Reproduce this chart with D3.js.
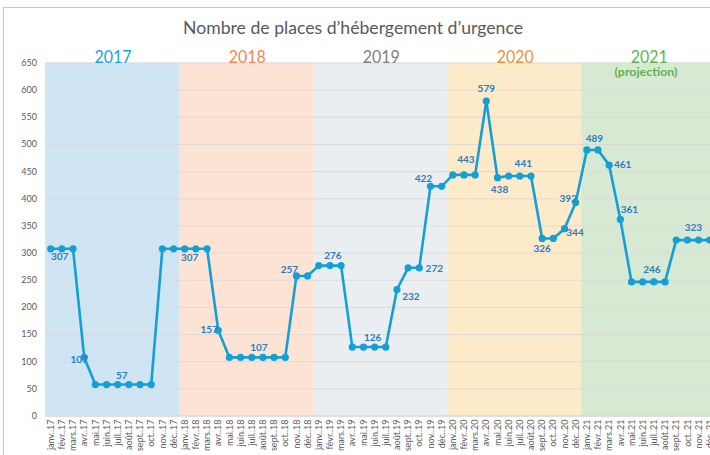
<!DOCTYPE html>
<html>
<head>
<meta charset="utf-8">
<script src="https://cdn.jsdelivr.net/npm/d3@7"></script>
<style>
  body { margin: 0; background: #fff; overflow: hidden; }
  text { font-family: Lato, "Open Sans", sans-serif; }
</style>
</head>
<body>
<div id="chart"></div>
<script>
// months in french excel format
var monthNames = ["janv.", "févr.", "mars", "avr.", "mai", "juin", "juil.", "août", "sept.", "oct.", "nov.", "déc."];
var years = ["2017", "2018", "2019", "2020", "2021"];
var yearColors = ["#1ba1dc", "#f08a4b", "#7f7f7f", "#e8952e", "#5cb34c"];
var bandColors = ["#cfe5f3", "#fce3d4", "#eaeef0", "#fdeac8", "#d7e9d2"];

var places = [
  307, 307, 307, 107, 57, 57, 57, 57, 57, 57, 307, 307,
  307, 307, 307, 157, 107, 107, 107, 107, 107, 107, 257, 257,
  276, 276, 276, 126, 126, 126, 126, 232, 272, 272, 422, 422,
  443, 443, 443, 579, 438, 441, 441, 441, 326, 326, 344, 392,
  489, 489, 461, 361, 246, 246, 246, 246, 323, 323, 323, 323
];
var yTicks = [0, 50, 100, 150, 200, 250, 300, 350, 400, 450, 500, 550, 600, 650];

// which points carry a label
var labelIdx = [0, 3, 6, 12, 15, 19, 22, 25, 29, 31, 33, 34, 37, 39, 40, 42, 44, 46, 47, 48, 50, 51, 54, 57];
// label offsets from the point (text centre)
var labelOffsets = [
  [9, 8], [-5, 2], [4, -9], [5, 8.5], [-9, -1], [-4, -10], [-7, -6], [3, -10],
  [-2, -9.5], [14, 7], [15, 0.5], [-7, -8], [2, -15.5], [0, -12.7], [2, 12], [3.5, -12.7],
  [0, 10], [10.5, 3.6], [-7.5, -4], [7.5, -11.6], [13.5, -1], [9, -10], [-2, -12], [6, -13]
];

var months = [];
years.forEach(function(y) {
  monthNames.forEach(function(m) { months.push(m + "." + y.slice(2)); });
});

var width = 710, height = 455;
var svg = d3.select("#chart").append("svg")
    .attr("width", width)
    .attr("height", height);

// chart frame
svg.append("rect")
    .attr("x", 3.5).attr("y", 7.5)
    .attr("width", 760).attr("height", 500)
    .attr("fill", "none")
    .attr("stroke", "#c9c9c9");

var x = d3.scaleBand()
    .domain(months)
    .range([45.1, 45.1 + 60 * 11.17])
    .padding(0);

var y = d3.scaleLinear()
    .domain([0, 650])
    .range([415.5, 62.5]);

// year backgrounds
svg.selectAll(".band")
    .data(years)
    .enter()
    .append("rect")
    .attr("x", function(d, i) { return x(months[i * 12]); })
    .attr("y", y(650))
    .attr("width", x.step() * 12)
    .attr("height", y(0) - y(650))
    .attr("fill", function(d, i) { return bandColors[i]; });

// gridlines + y axis labels
var yAxis = svg.append("g")
    .attr("transform", "translate(45,0)")
    .call(d3.axisLeft(y).tickValues(yTicks).tickSize(-680).tickPadding(8));
yAxis.select(".domain").remove();
yAxis.selectAll("line").attr("stroke", "#d9d9d9").attr("stroke-width", 1).attr("opacity", 0.9);
yAxis.selectAll("text")
    .attr("fill", "#595959")
    .style("font-size", "9px");

// x axis labels
var xAxis = svg.append("g")
    .attr("transform", "translate(0," + y(0) + ")")
    .call(d3.axisBottom(x).tickSize(0));
xAxis.select(".domain").attr("stroke", "#d0d0d0");
xAxis.selectAll("text")
    .attr("transform", "rotate(-90)")
    .attr("x", -4)
    .attr("y", 0)
    .attr("dy", "0.35em")
    .style("text-anchor", "end")
    .style("font-size", "9px")
    .attr("fill", "#595959");

// title
svg.append("text")
    .attr("x", 353)
    .attr("y", 34)
    .attr("text-anchor", "middle")
    .attr("textLength", 340)
    .attr("lengthAdjust", "spacingAndGlyphs")
    .style("font-size", "17px")
    .attr("fill", "#595959")
    .text("Nombre de places d\u2019hébergement d\u2019urgence");

// year titles
svg.selectAll(".yr")
    .data(years)
    .enter()
    .append("text")
    .attr("x", function(d, i) { return x(months[i * 12]) + x.step() * 6 + 1; })
    .attr("y", 63)
    .attr("text-anchor", "middle")
    .attr("textLength", 37)
    .attr("lengthAdjust", "spacingAndGlyphs")
    .style("font-size", "18px")
    .attr("fill", function(d, i) { return yearColors[i]; })
    .text(function(d) { return d; });

svg.append("text")
    .attr("x", 646)
    .attr("y", 75.5)
    .attr("text-anchor", "middle")
    .attr("textLength", 63)
    .attr("lengthAdjust", "spacingAndGlyphs")
    .style("font-size", "11.5px")
    .style("font-weight", "bold")
    .attr("fill", "#5cb34c")
    .text("(projection)");

// line
var line = d3.line()
    .x(function(d, i) { return x(months[i]) + x.bandwidth() / 2; })
    .y(function(d) { return y(d); });

svg.append("path")
    .datum(places)
    .attr("d", line)
    .attr("fill", "none")
    .attr("stroke", "#139fd8")
    .attr("stroke-width", 2.6)
    .attr("stroke-linejoin", "round");

svg.selectAll(".pt")
    .data(places)
    .enter()
    .append("circle")
    .attr("cx", function(d, i) { return x(months[i]) + x.bandwidth() / 2; })
    .attr("cy", function(d) { return y(d); })
    .attr("r", 3.6)
    .attr("fill", "#139fd8");

// data labels
svg.selectAll(".lbl")
    .data(labelIdx)
    .enter()
    .append("text")
    .attr("x", function(d, i) { return x(months[d]) + x.bandwidth() / 2 + labelOffsets[i][0]; })
    .attr("y", function(d, i) { return y(places[d]) + labelOffsets[i][1]; })
    .attr("dy", "0.35em")
    .attr("text-anchor", "middle")
    .style("font-size", "10px")
    .style("font-weight", "bold")
    .attr("fill", "#2b7cc0")
    .text(function(d) { return places[d]; });
</script>
</body>
</html>
